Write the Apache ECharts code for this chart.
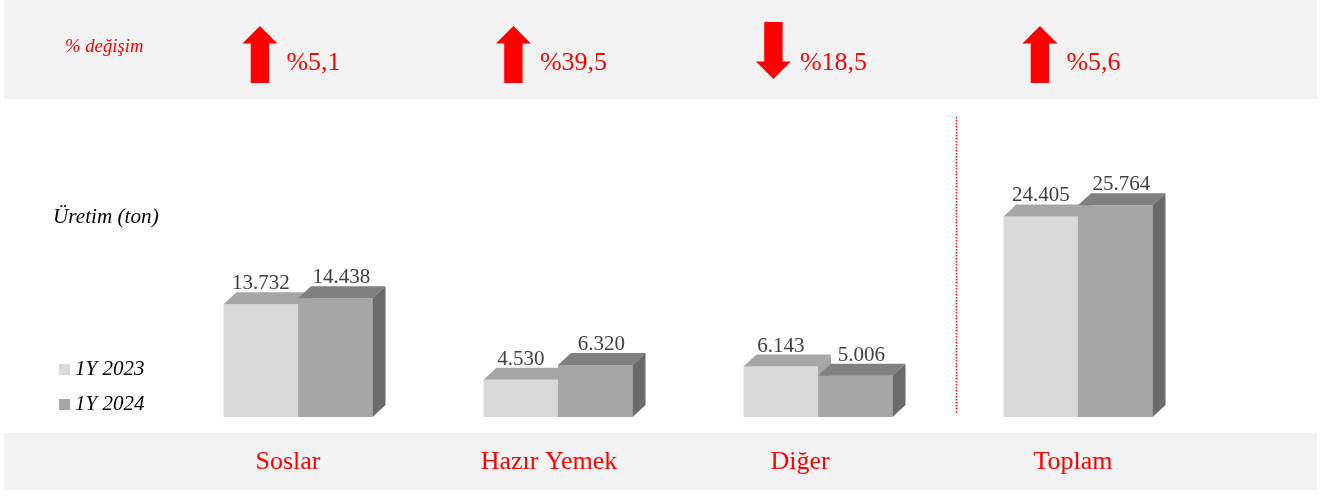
<!DOCTYPE html>
<html><head><meta charset="utf-8">
<script src="https://cdn.jsdelivr.net/npm/echarts@6/dist/echarts.min.js"></script>
<style>html,body{margin:0;padding:0;background:#fff}#c{width:1330px;height:496px}</style>
</head><body><div id="c"></div>
<script>
// ---- data ----
const categories = ['Soslar', 'Hazır Yemek', 'Diğer', 'Toplam'];
const seriesNames = ['1Y 2023', '1Y 2024'];
const values2023 = [13732, 4530, 6143, 24405];
const values2024 = [14438, 6320, 5006, 25764];
const pctChange = [5.1, 39.5, -18.5, 5.6];
const axisTitle = 'Üretim (ton)';
const pctTitle = '% değişim';

// ---- styling / layout ----
const SERIF = '"Liberation Serif", "Times New Roman", serif';
const FRONT = ['#d9d9d9', '#a6a6a6'];
const TOPC = ['#a6a6a6', '#808080'];
const SIDE = ['#a6a6a6', '#6b6b6b'];
const DX = 13, DY = 12;
const BAR_FRAC = 74.5 / 260;
const labelShift = [-10, -9, -18, -5];
const PCT_SIZE = 26;
const fmtNum = v => String(v).replace(/\B(?=(\d{3})+(?!\d))/g, '.');
const fmtPct = p => '%' + String(Math.abs(p)).replace('.', ',');

const _ctx = document.createElement('canvas').getContext('2d');
function measure(t, font) { _ctx.font = font; return _ctx.measureText(t).width; }

function barRender(si) {
  return function (params, api) {
    const cat = api.value(0), val = api.value(1);
    const b = api.coord([cat, 0]), t = api.coord([cat, val]);
    const bw = api.size([1, 0])[0] * BAR_FRAC;
    const x0 = b[0] - (si === 0 ? bw : 0), x1 = x0 + bw;
    const yT = t[1], yB = b[1];
    return {
      type: 'group',
      children: [
        { type: 'rect', shape: { x: x0, y: yT, width: bw, height: yB - yT }, style: { fill: FRONT[si] } },
        { type: 'polygon', shape: { points: [[x0, yT], [x1, yT], [x1 + DX, yT - DY], [x0 + DX, yT - DY]] }, style: { fill: TOPC[si] } },
        { type: 'polygon', shape: { points: [[x1, yT], [x1 + DX, yT - DY], [x1 + DX, yB - DY], [x1, yB]] }, style: { fill: SIDE[si] } },
        { type: 'text', style: { text: fmtNum(val), x: x0 + bw / 2 + (si === 1 ? 6 : 0), y: yT - 10, align: 'center', verticalAlign: 'bottom',
            fontFamily: SERIF, fontSize: 21, fill: '#404040' } }
      ]
    };
  };
}

function pctRender(params, api) {
  const i = api.value(0), p = api.value(1);
  const cx = api.coord([i, 0])[0];
  const label = fmtPct(p);
  const tw = measure(label, PCT_SIZE + 'px ' + SERIF);
  const W = 35, H = 57, HH = 17.6, SW = 18.4, GAP = 9;
  const total = W + GAP + tw;
  const ax = cx - 6.5 - total / 2;
  const up = p >= 0;
  const aTop = up ? 26 : 22;
  const sx0 = ax + (W - SW) / 2, sx1 = sx0 + SW;
  let pts;
  if (up) pts = [[ax + W / 2, aTop], [ax + W, aTop + HH], [sx1, aTop + HH], [sx1, aTop + H], [sx0, aTop + H], [sx0, aTop + HH], [ax, aTop + HH]];
  else pts = [[sx0, aTop], [sx1, aTop], [sx1, aTop + H - HH], [ax + W, aTop + H - HH], [ax + W / 2, aTop + H], [ax, aTop + H - HH], [sx0, aTop + H - HH]];
  return {
    type: 'group',
    children: [
      { type: 'polygon', shape: { points: pts }, style: { fill: '#ff0000' } },
      { type: 'text', style: { text: label, x: ax + W + GAP, y: 63, align: 'left', verticalAlign: 'middle',
          fontFamily: SERIF, fontSize: PCT_SIZE, fill: '#ff0000' } }
    ]
  };
}

const rich = {};
labelShift.forEach((s, i) => {
  rich['s' + i] = { fontFamily: SERIF, fontSize: 26, color: '#ff0000',
    padding: s < 0 ? [0, -2 * s, 0, 0] : [0, 0, 0, 2 * s] };
});

const chart = echarts.init(document.getElementById('c'), null, { renderer: 'canvas' });
chart.setOption({
  animation: false,
  backgroundColor: '#ffffff',
  grid: { left: 168, right: 122, top: 117, bottom: 79 },
  legend: {
    data: seriesNames, orient: 'vertical', left: 59, top: 358, padding: 0, itemWidth: 11, itemHeight: 11, itemGap: 12,
    icon: 'rect', selectedMode: false,
    textStyle: { fontFamily: SERIF, fontStyle: 'italic', fontSize: 21, color: '#000', lineHeight: 23 }
  },
  xAxis: {
    type: 'category', data: categories,
    axisLine: { show: false }, axisTick: { show: false }, splitLine: { show: false },
    axisLabel: { margin: 32, interval: 0, formatter: (v, i) => '{s' + i + '|' + v + '}', rich: rich }
  },
  yAxis: { type: 'value', min: 0, max: 36500, show: false },
  series: [
    { type: 'custom', name: seriesNames[0], z: 3, itemStyle: { color: FRONT[0] }, renderItem: barRender(0),
      data: values2023.map((v, i) => [i, v]) },
    { type: 'custom', name: seriesNames[1], z: 3, itemStyle: { color: FRONT[1] }, renderItem: barRender(1),
      data: values2024.map((v, i) => [i, v]) },
    { type: 'custom', name: 'pct', z: 3, silent: true, renderItem: pctRender,
      data: pctChange.map((p, i) => [i, p]) }
  ]
});

const cD = chart.convertToPixel({ xAxisIndex: 0 }, categories[2]);
const cT = chart.convertToPixel({ xAxisIndex: 0 }, categories[3]);
const sepX = Math.round((cD + cT) / 2 + 8) + 0.5;
chart.setOption({
  graphic: [
    { type: 'rect', z: -10, shape: { x: 4, y: 0, width: 1313, height: 99 }, style: { fill: '#f2f2f2' } },
    { type: 'rect', z: -10, shape: { x: 4, y: 433, width: 1313, height: 57 }, style: { fill: '#f2f2f2' } },
    { type: 'text', z: 5, style: { text: pctTitle, x: 65, y: 47, verticalAlign: 'middle', fontFamily: SERIF, fontStyle: 'italic', fontSize: 18.7, fill: '#ff0000' } },
    { type: 'text', z: 5, style: { text: axisTitle, x: 53, y: 217, verticalAlign: 'middle', fontFamily: SERIF, fontStyle: 'italic', fontSize: 21.2, fill: '#000' } },
    { type: 'line', z: 5, shape: { x1: sepX, y1: 117, x2: sepX, y2: 413 }, style: { stroke: '#ff0000', lineWidth: 1.5, lineDash: [1.5, 1.5] } }
  ]
});
</script></body></html>
